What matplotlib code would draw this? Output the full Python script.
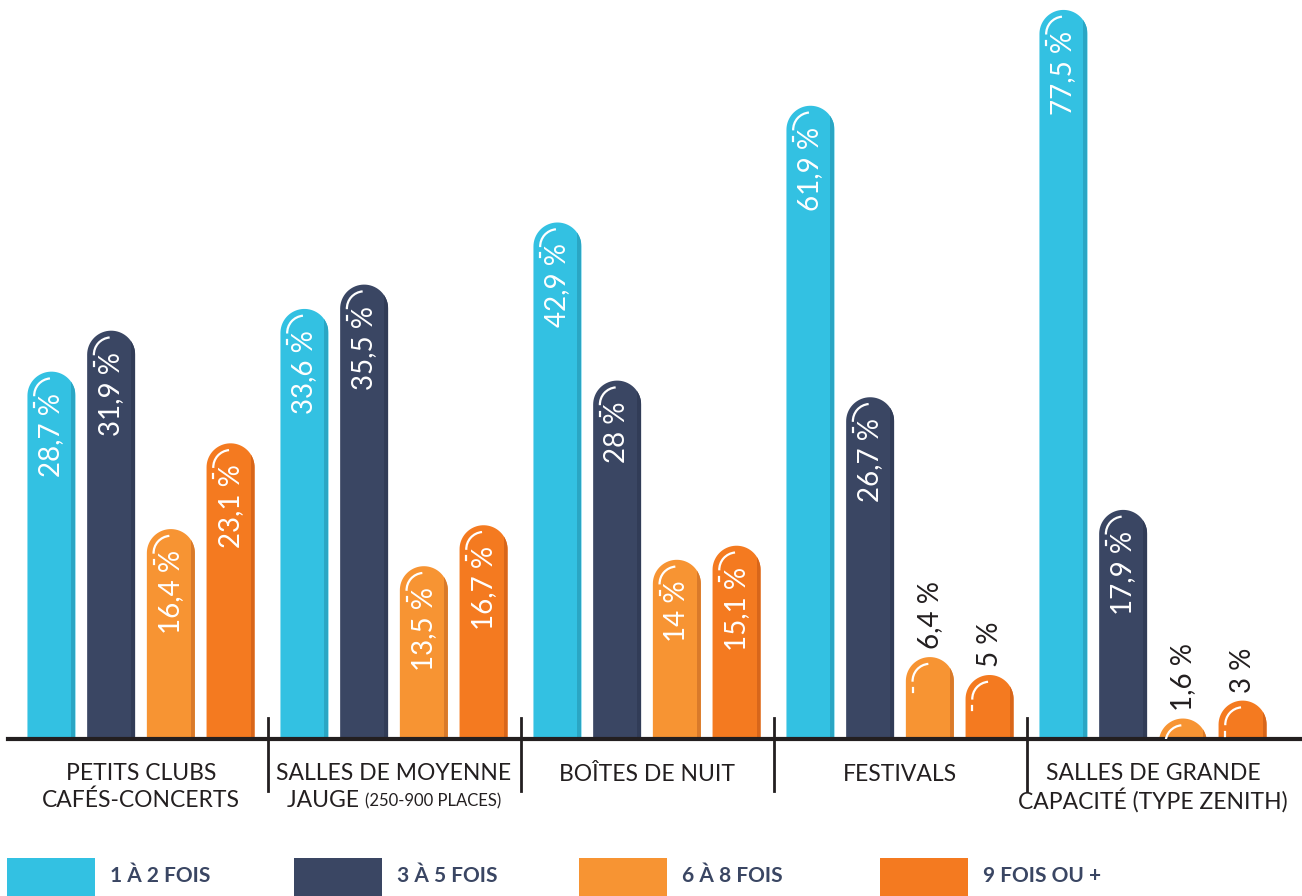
import numpy as np
import matplotlib
matplotlib.use('Agg')
import matplotlib.pyplot as plt
from matplotlib.path import Path
from matplotlib.patches import PathPatch, Rectangle, Arc
from matplotlib.transforms import IdentityTransform
from matplotlib.lines import Line2D

# données
categories = [
    ('PETITS CLUBS', 'CAFÉS-CONCERTS', ''),
    ('SALLES DE MOYENNE', 'JAUGE ', '(250-900 PLACES)'),
    ('BOÎTES DE NUIT', '', ''),
    ('FESTIVALS', '', ''),
    ('SALLES DE GRANDE', 'CAPACITÉ (TYPE ZENITH)', ''),
]
series = ['1 À 2 FOIS', '3 À 5 FOIS', '6 À 8 FOIS', '9 FOIS OU +']
un_a_deux = [28.7, 33.6, 42.9, 61.9, 77.5]
trois_a_cinq = [31.9, 35.5, 28.0, 26.7, 17.9]
six_a_huit = [16.4, 13.5, 14.0, 6.4, 1.6]
neuf_plus = [23.1, 16.7, 15.1, 5.0, 3.0]

colors = ['#33c1e2', '#3a4663', '#f79433', '#f47a20']
shades = ['#2aa6c4', '#313c57', '#d97a2a', '#d8661a']
dark = '#231f20'

plt.rcParams['font.family'] = ['Lato', 'DejaVu Sans']

# échelle compressée au-dessus de 38 % (comme sur l'original)
def fwd(v):
    v = np.asarray(v, dtype=float)
    return np.where(v < 38, v, 38 + (v - 38) * 0.48)

def inv(t):
    t = np.asarray(t, dtype=float)
    return np.where(t < 38, t, 38 + (t - 38) / 0.48)

W, H = 1302, 896
fig = plt.figure(figsize=(W / 100, H / 100), dpi=100)
ax = fig.add_axes([8 / W, 157 / H, 1294 / W, 739 / H])
ax.set_yscale('function', functions=(fwd, inv))
ax.set_ylim(0, float(inv(739 / 12.8)))
ax.set_xlim(-133 / 253, -133 / 253 + 1294 / 253)
for s in ['top', 'left', 'right']:
    ax.spines[s].set_visible(False)
ax.spines['bottom'].set_linewidth(3)
ax.spines['bottom'].set_color(dark)
ax.set_xticks([])
ax.set_yticks([])
ax.patch.set_alpha(0)

data = [un_a_deux, trois_a_cinq, six_a_huit, neuf_plus]
step = 59.7 / 253
bw = 48 / 253

def fmt(v):
    return f'{v:g}'.replace('.', ',') + ' %'

for j, vals in enumerate(data):
    for i, v in enumerate(vals):
        xc = i + (j - 1.5) * step
        (x0, y0) = ax.transData.transform((xc - bw / 2, 0))
        (x1, ytop) = ax.transData.transform((xc + bw / 2, v))
        r = (x1 - x0) / 2
        cx = (x0 + x1) / 2
        cy = ytop - r
        t = np.linspace(np.pi, 0, 40)
        verts = [(x0, y0 - r)] + list(zip(cx + r * np.cos(t), cy + r * np.sin(t))) + [(x1, y0 - r), (x0, y0 - r)]
        codes = [Path.MOVETO] + [Path.LINETO] * (len(verts) - 2) + [Path.CLOSEPOLY]
        pill = PathPatch(Path(verts, codes), facecolor=colors[j], edgecolor='none',
                         transform=IdentityTransform(), zorder=2)
        ax.add_patch(pill)
        strip = Rectangle((x1 - 4, y0 - r), 4, ytop - y0 + r, facecolor=shades[j],
                          edgecolor='none', transform=IdentityTransform(), zorder=2.1)
        ax.add_patch(strip)
        strip.set_clip_path(pill)
        rr = r * 0.72
        ax.add_patch(Arc((cx, cy), 2 * rr, 2 * rr, theta1=95, theta2=182, color='white',
                         lw=1.6, transform=IdentityTransform(), zorder=3))
        ax.add_line(Line2D([cx - rr, cx - rr], [cy - 7, cy - 11], color='white', lw=1.6,
                           transform=IdentityTransform(), zorder=3))
        if v >= 10:
            ax.text(cx, ytop - 21, fmt(v), rotation=90, ha='center', va='top',
                    color='white', fontsize=20,
                    transform=IdentityTransform(), zorder=4)
        else:
            ax.text(cx, ytop + 8, fmt(v), rotation=90, ha='center', va='bottom',
                    color=dark, fontsize=20,
                    transform=IdentityTransform(), zorder=4)

# séparateurs
for i in range(len(categories) - 1):
    ax.plot([i + 0.5, i + 0.5], [21 / 739, -52 / 739], color=dark, lw=2,
            transform=ax.get_xaxis_transform(), clip_on=False)

# étiquettes des catégories
fs = 16.5
renderer = fig.canvas.get_renderer()
for i, (l1, l2, small) in enumerate(categories):
    dy1 = -34 if l2 else -35
    ax.annotate(l1, xy=(i, 0), xycoords=('data', 'axes fraction'), xytext=(0, dy1),
                textcoords='offset pixels', ha='center', va='center', fontsize=fs,
                color=dark, annotation_clip=False)
    if l2 and not small:
        ax.annotate(l2, xy=(i, 0), xycoords=('data', 'axes fraction'), xytext=(0, -61),
                    textcoords='offset pixels', ha='center', va='center', fontsize=fs,
                    color=dark, annotation_clip=False)
    elif small:
        a = ax.text(0, 0, l2, fontsize=fs)
        b = ax.text(0, 0, small, fontsize=12)
        w1 = a.get_window_extent(renderer).width
        w2 = b.get_window_extent(renderer).width
        a.remove()
        b.remove()
        left = -(w1 + w2) / 2
        ax.annotate(l2, xy=(i, 0), xycoords=('data', 'axes fraction'), xytext=(left, -61),
                    textcoords='offset pixels', ha='left', va='center', fontsize=fs,
                    color=dark, annotation_clip=False)
        ax.annotate(small, xy=(i, 0), xycoords=('data', 'axes fraction'),
                    xytext=(left + w1, -62), textcoords='offset pixels', ha='left',
                    va='center', fontsize=12, color=dark, annotation_clip=False)

# légende
leg_x = [7, 294, 579, 880]
for j, name in enumerate(series):
    fig.add_artist(Rectangle((leg_x[j] / W, 0), 88 / W, 38 / H, facecolor=colors[j],
                             edgecolor='none', transform=fig.transFigure))
    fig.text((leg_x[j] + 103) / W, 20 / H, name, ha='left', va='center', fontsize=15,
             fontweight='bold', color='#3a4663')

fig.savefig('out.png', dpi=100)
